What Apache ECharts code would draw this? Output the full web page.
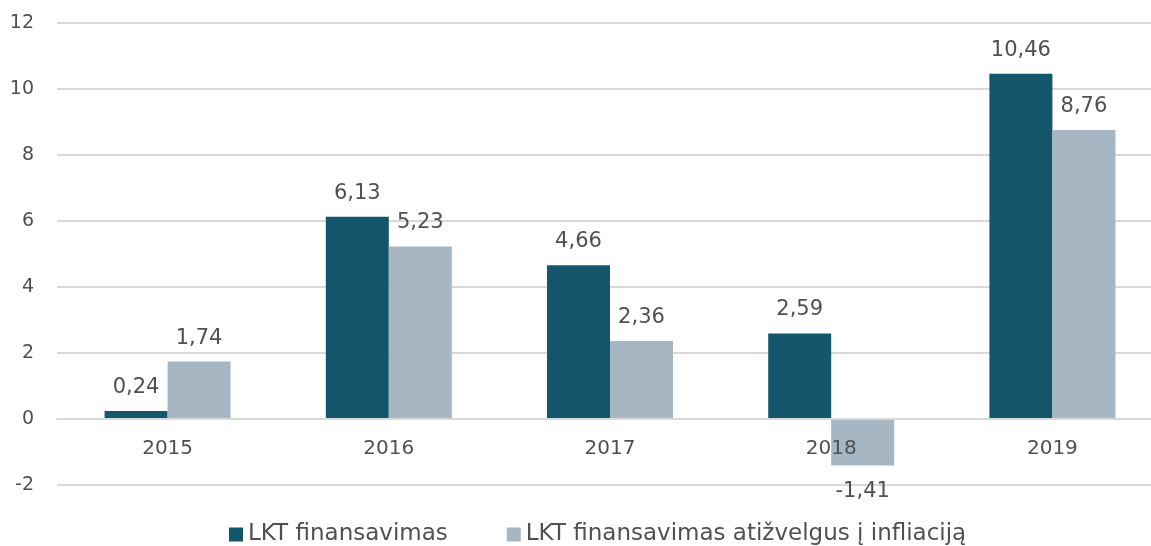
<!DOCTYPE html>
<html lang="lt">
<head>
<meta charset="utf-8">
<title>LKT finansavimas</title>
<script src="https://cdn.jsdelivr.net/npm/echarts@6/dist/echarts.min.js"></script>
<style>
  html, body { margin: 0; padding: 0; background: #fff; }
  #chart { width: 1151px; height: 546px; }
</style>
</head>
<body>
<div id="chart"></div>
<script>
// duomenys
var years = ['2015', '2016', '2017', '2018', '2019'];
var lktFin = [0.24, 6.13, 4.66, 2.59, 10.46];
var lktInfl = [1.74, 5.23, 2.36, -1.41, 8.76];
var seriesNames = ['LKT finansavimas', 'LKT finansavimas atižvelgus į infliaciją'];

var FONT = '"DejaVu Sans", sans-serif';
var TXT = '#505050';

function fmt(v) {
  return v.toFixed(2).replace('.', ',');
}

function labelFor(val) {
  return {
    show: true,
    position: val < 0 ? 'bottom' : 'top',
    distance: val < 0 ? 16 : 13,
    color: TXT,
    fontSize: 21,
    fontFamily: FONT,
    formatter: function (p) { return fmt(p.value); }
  };
}

function buildData(arr) {
  return arr.map(function (v) {
    return { value: v, label: labelFor(v) };
  });
}

var chart = echarts.init(document.getElementById('chart'));
var option = {
  animation: false,
  textStyle: { fontFamily: FONT },
  grid: { left: 57, top: 23, width: 1106, height: 462, outerBoundsMode: 'none', containLabel: false },
  legend: {
    data: seriesNames,
    top: 523,
    left: 229,
    padding: 0,
    itemWidth: 14,
    itemHeight: 14,
    itemGap: 59,
    icon: 'rect',
    textStyle: { color: TXT, fontSize: 23, fontFamily: FONT }
  },
  xAxis: {
    type: 'category',
    data: years,
    offset: -66,
    z: 10,
    axisLine: { onZero: false, lineStyle: { color: '#d9d9d9', width: 2 } },
    axisTick: { show: false },
    axisLabel: { color: TXT, fontSize: 20, margin: 20, fontFamily: FONT }
  },
  yAxis: {
    type: 'value',
    min: -2,
    max: 12,
    interval: 2,
    axisLine: { show: false },
    axisTick: { show: false },
    splitLine: { lineStyle: { color: '#d9d9d9', width: 2 } },
    axisLabel: { color: TXT, fontSize: 19, margin: 23, fontFamily: FONT }
  },
  series: [
    {
      name: seriesNames[0],
      type: 'bar',
      barWidth: 63,
      barGap: 0,
      itemStyle: { color: '#14566c' },
      data: buildData(lktFin)
    },
    {
      name: seriesNames[1],
      type: 'bar',
      barWidth: 63,
      barGap: 0,
      itemStyle: { color: '#a6b6c3' },
      data: buildData(lktInfl)
    }
  ]
};
chart.setOption(option);
</script>
</body>
</html>
